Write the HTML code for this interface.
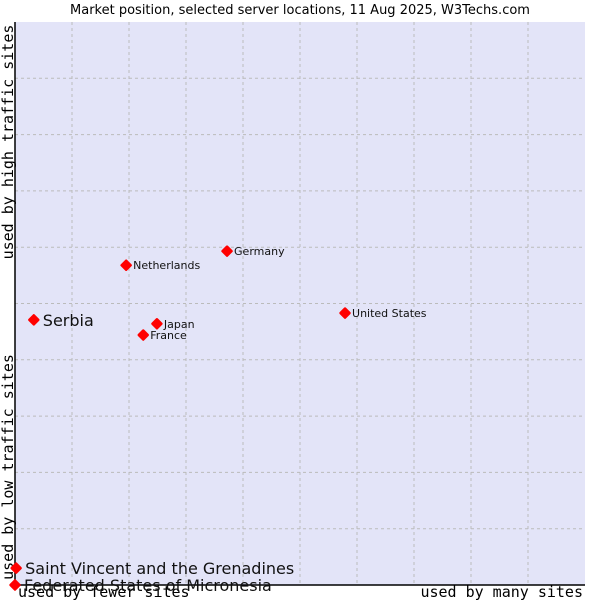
<!DOCTYPE html>
<html><head><meta charset="utf-8"><style>
html,body{margin:0;padding:0;background:#fff;width:600px;height:600px;overflow:hidden}
svg text{font-family:"DejaVu Sans","Liberation Sans",sans-serif}
.mono{font-family:"DejaVu Sans Mono","Liberation Mono",monospace}
</style></head><body>
<svg id="chart" width="600" height="600">
<text x="300" y="14" text-anchor="middle" font-size="13" fill="#000">Market position, selected server locations, 11 Aug 2025, W3Techs.com</text>
<rect x="15" y="22" width="570" height="563" fill="#e3e4f8"/>
<g id="grid"></g>
<line x1="15" y1="22" x2="15" y2="585" stroke="#000" stroke-width="1.5"/>
<line x1="15" y1="585" x2="585" y2="585" stroke="#000" stroke-width="1.5"/>
<text class="mono" x="0" y="0" transform="translate(13,142) rotate(-90)" text-anchor="middle" font-size="15">used by high traffic sites</text>
<text class="mono" x="0" y="0" transform="translate(13,467) rotate(-90)" text-anchor="middle" font-size="15">used by low traffic sites</text>
<text class="mono" x="18" y="597" font-size="15">used by fewer sites</text>
<text class="mono" x="583" y="597" text-anchor="end" font-size="15">used by many sites</text>
<g id="points"></g>
</svg>
<script>
const names = ["Serbia","Saint Vincent and the Grenadines","Federated States of Micronesia","Netherlands","Germany","Japan","France","United States"];
const xValues = [3.3,0.2,0,19.5,37.2,24.9,22.5,57.9];
const yValues = [47.1,3.0,0,56.8,59.3,46.4,44.4,48.3];
const fontSizes = [16,16,16,11,11,11,11,11];
const NS="http://www.w3.org/2000/svg";
const L=15,R=585,T=22,B=585;
const xs=v=>L+(v/100)*(R-L);
const ys=v=>B-(v/100)*(B-T);
const grid=document.getElementById('grid');
for(let i=1;i<10;i++){
  const gx=L+(R-L)*i/10, gy=T+(B-T)*i/10;
  const a=document.createElementNS(NS,'line');
  a.setAttribute('x1',gx);a.setAttribute('x2',gx);a.setAttribute('y1',T);a.setAttribute('y2',B);
  a.setAttribute('stroke','#bbb');a.setAttribute('stroke-dasharray','3,3');
  
  
  grid.appendChild(a);
  const b=document.createElementNS(NS,'line');
  b.setAttribute('x1',L);b.setAttribute('x2',R);b.setAttribute('y1',gy);b.setAttribute('y2',gy);
  b.setAttribute('stroke','#bbb');b.setAttribute('stroke-dasharray','3,3');
  
  
  grid.appendChild(b);
}
const pg=document.getElementById('points');
names.forEach((n,i)=>{
  const cx=xs(xValues[i]), cy=ys(yValues[i]);
  const p=document.createElementNS(NS,'path');
  p.setAttribute('d',`M${cx} ${cy-4.5}L${cx+4.5} ${cy}L${cx} ${cy+4.5}L${cx-4.5} ${cy}Z`);
  p.setAttribute('fill','#f00');p.setAttribute('stroke','#f00');p.setAttribute('stroke-width','2.5');p.setAttribute('stroke-linejoin','round');
  
  
  pg.appendChild(p);
  const t=document.createElementNS(NS,'text');
  t.setAttribute('x',cx+(fontSizes[i]>12?9:7));
  t.setAttribute('y',cy+(fontSizes[i]>12?6:4));
  t.setAttribute('font-size',fontSizes[i]);
  t.setAttribute('fill','#111');
  t.textContent=n;
  
  
  pg.appendChild(t);
});
</script>
</body></html>
